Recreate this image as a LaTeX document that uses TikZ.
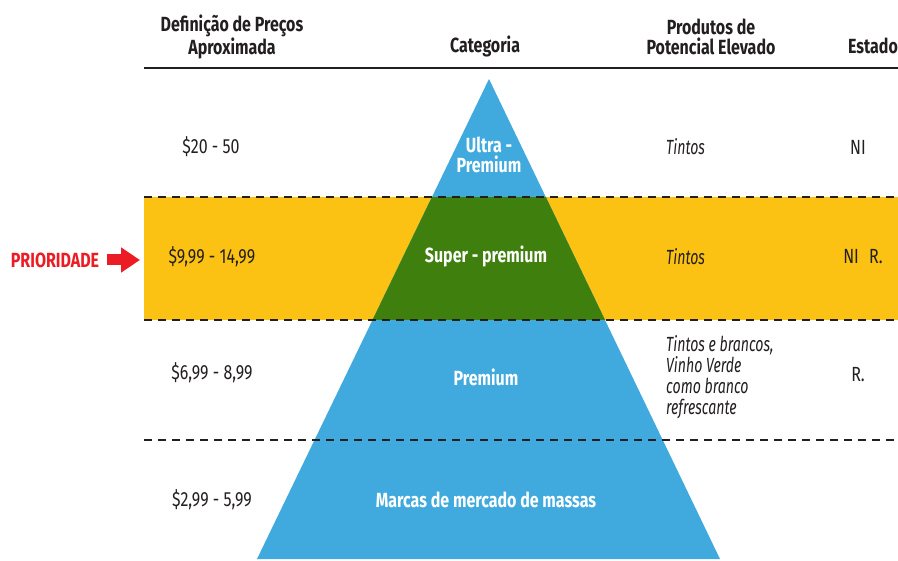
\documentclass[tikz,border=0pt]{standalone}
\usepackage{fontspec}
\setmainfont[FakeStretch=0.78]{Fira Sans}
\newfontfamily\prodfont[FakeStretch=0.69]{Fira Sans}
\usepackage{xcolor}
\usetikzlibrary{arrows.meta}
\definecolor{ink}{HTML}{231F20}
\definecolor{pyrblue}{HTML}{40AADF}
\definecolor{bandyellow}{HTML}{FCC213}
\definecolor{bandgreen}{HTML}{3E7F0E}
\definecolor{prored}{HTML}{EC1C24}
\tikzset{
every node/.style={font=\fontsize{20.5}{21}\selectfont,text=ink,inner sep=2pt},
header/.style={font=\fontsize{20.5}{20}\selectfont\bfseries,align=center},
price/.style={},
cat/.style={font=\fontsize{20.5}{20}\selectfont\bfseries,text=white,align=center},
prod/.style={font=\fontsize{20.5}{21}\selectfont\prodfont\itshape,align=left,anchor=west},
state/.style={},
rowrule/.style={line width=1.3pt,draw=ink,dash pattern=on 8pt off 6pt},
prioarrow/.style={draw=prored,line width=11pt,-{Triangle[length=19pt,width=24pt]}},
}
\begin{document}
\begin{tikzpicture}[x=1pt,y=-1pt]
\useasboundingbox (0,0) rectangle (898,561);
% the band and the pyramid
\fill[bandyellow] (144,197) rectangle (898,320);
\fill[pyrblue] (489,79) -- (257,559) -- (720,559) -- cycle;
\begin{scope}
\clip (489,79) -- (257,559) -- (720,559) -- cycle;
\fill[bandgreen] (144,197) rectangle (898,320);
\end{scope}
% the rules
\draw[ink,line width=2.5pt] (144,68) -- (898,68);
\foreach \y in {197,320,440}
{
  \draw[rowrule] (144,\y) -- (898,\y);
}
% the headers
\node[header] (hprice) at (232,37) {Definição de Preços\\Aproximada};
\node[header] (hcat) at (485,46) {Categoria};
\node[header] (hprod) at (711,37) {Produtos de\\Potencial Elevado};
\node[header] (hstate) at (873,46) {Estado};
% the rows
\node[price] (price1) at (211,147) {\$20 - 50};
\node[price] (price2) at (212,257) {\$9,99 - 14,99};
\node[price] (price3) at (212,373) {\$6,99 - 8,99};
\node[price] (price4) at (212,500) {\$2,99 - 5,99};
\node[cat] (cat1) at (489,155) {Ultra -\\Premium};
\node[cat] (cat2) at (486,256) {Super - premium};
\node[cat] (cat3) at (486,377) {Premium};
\node[cat] (cat4) at (486,500) {Marcas de mercado de massas};
\node[prod] (prod1) at (664,147) {Tintos};
\node[prod] (prod2) at (664,257) {Tintos};
\node[prod] (prod3) at (664,377) {Tintos e brancos,\\Vinho Verde\\como branco\\refrescante};
\node[state] (state1) at (858,147) {NI};
\node[state] (state2) at (863,257) {NI\enspace R.};
\node[state] (state3) at (858,375) {R.};
% the priority mark
\node[font=\fontsize{20.5}{20}\selectfont\bfseries,text=prored] (prio) at (55,260) {PRIORIDADE};
\coordinate (priotip) at (140,260);
\draw[prioarrow,shorten <=6pt] (prio.east) -- (priotip);
\end{tikzpicture}
\end{document}
